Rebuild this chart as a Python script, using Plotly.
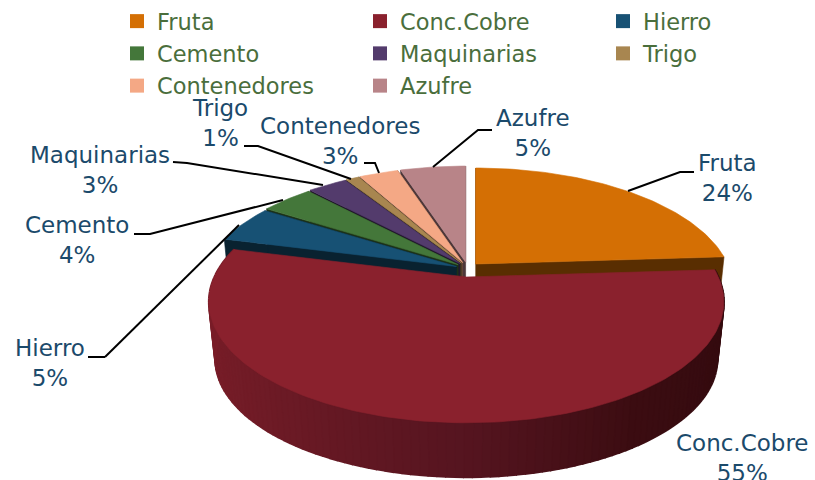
import math
import plotly.graph_objects as go

categories = ["Fruta", "Conc.Cobre", "Hierro", "Cemento", "Maquinarias", "Trigo", "Contenedores", "Azufre"]
values = [24, 55, 5, 4, 3, 1, 3, 5]
colors = ["#D46F04", "#8A212D", "#175174", "#44773A", "#533B6C", "#A88650", "#F4A885", "#B88488"]
legend_columns = [[0, 3, 6], [1, 4, 7], [2, 5]]
label_color = "#1B4A6B"
legend_color = "#4A6E3C"
FONT = "DejaVu Sans"
FS = 23

# Projection of the tilted disc
CX, CY, R, RY, K = 467.5, 269.5, 252.0, 115.8, 0.206
EX, EY = 12.0, 7.5
DEPTH, BOTTOM_SCALE = 58.0, 0.975


def project(angle, radius=1.0, bottom=False):
    u = math.sin(angle) * radius
    v = -math.cos(angle) * radius
    w = 1 - K * v
    s = BOTTOM_SCALE if bottom else 1.0
    return R * s * u / w, RY * s * v / w + (DEPTH if bottom else 0.0)


def darken(hex_color, f):
    r, g, b = (int(hex_color[i:i + 2], 16) for i in (1, 3, 5))
    return f"rgb({int(r * f)},{int(g * f)},{int(b * f)})"


# slice angles from the values
total = sum(values)
angles = []
acc = 0
for val in values:
    a0 = acc / total * 2 * math.pi
    acc += val
    angles.append((a0, acc / total * 2 * math.pi))

fig = go.Figure()


def poly(xs, ys, color, width=0.6):
    fig.add_trace(go.Scatter(x=xs, y=ys, mode="lines", fill="toself", fillcolor=color,
                             line=dict(color=color, width=width), hoverinfo="skip", showlegend=False))


def offset(i):
    mid = sum(angles[i]) / 2
    return CX + EX * math.sin(mid), CY - EY * math.cos(mid)


def draw_face(i, a):
    ox, oy = offset(i)
    t = project(a)
    b = project(a, bottom=True)
    c = darken(colors[i], 0.42)
    poly([ox, ox + t[0], ox + b[0], ox], [oy, oy + t[1], oy + b[1], oy + DEPTH], c)


def draw_top(i):
    ox, oy = offset(i)
    a0, a1 = angles[i]
    n = max(3, int((a1 - a0) / 0.02))
    pts = [project(a0 + (a1 - a0) * j / n) for j in range(n + 1)]
    poly([ox] + [ox + p[0] for p in pts] + [ox], [oy] + [oy + p[1] for p in pts] + [oy], colors[i])


# Back slices, far to near
for i in [0, 7, 6, 5, 4, 3, 2]:
    draw_face(i, angles[i][0])
    draw_face(i, angles[i][1])
    draw_top(i)

# Front wall of the large slice, shaded left to right
wall_stops = [(-1.0, (122, 30, 41)), (0.0, (86, 21, 32)), (0.55, (60, 13, 18)), (1.0, (52, 11, 15))]


def wall_color(u):
    for (u0, c0), (u1, c1) in zip(wall_stops, wall_stops[1:]):
        if u <= u1:
            f = (u - u0) / (u1 - u0)
            return "rgb(%d,%d,%d)" % tuple(c0[k] + (c1[k] - c0[k]) * f for k in range(3))
    return "rgb(52,11,15)"


ox, oy = offset(1)
a0, a1 = angles[1]
steps = 120
for j in range(steps):
    s0 = a0 + (a1 - a0) * j / steps
    s1 = a0 + (a1 - a0) * (j + 1) / steps
    t0, t1 = project(s0), project(s1)
    b0, b1 = project(s0, bottom=True), project(s1, bottom=True)
    poly([ox + t0[0], ox + t1[0], ox + b1[0], ox + b0[0]],
         [oy + t0[1], oy + t1[1], oy + b1[1], oy + b0[1]],
         wall_color(math.sin((s0 + s1) / 2)), width=2)
draw_top(1)

# Legend entries, one legend per column
for col_idx, members in enumerate(legend_columns):
    legend_id = "legend" if col_idx == 0 else f"legend{col_idx + 1}"
    for i in members:
        fig.add_trace(go.Scatter(x=[None], y=[None], mode="markers", name=categories[i], legend=legend_id,
                                 marker=dict(symbol="square", size=14, color=colors[i])))

# Data labels
label_pos = [(727, 178), (742, 458), (50, 363), (77, 240), (100, 170), (220, 123), (340, 141), (533, 133)]
for name, val, (lx, ly) in zip(categories, values, label_pos):
    fig.add_annotation(x=lx, y=ly, text=f"{name}<br>{round(val / total * 100)}%", showarrow=False,
                       font=dict(family=FONT, size=FS, color=label_color), align="center")

# Leader lines
leaders = [
    [(694, 172), (680, 172), (628, 191)],
    [(105, 357), (88, 357)],
    [(105, 357), (239, 225)],
    [(134, 234), (150, 234), (283, 200)],
    [(173, 162), (187, 163), (323, 185)],
    [(244, 146), (258, 146), (351, 179)],
    [(364, 163), (375, 163), (379, 173)],
    [(492, 130), (478, 130), (433, 167)],
]
for pts in leaders:
    fig.add_trace(go.Scatter(x=[p[0] for p in pts], y=[p[1] for p in pts], mode="lines",
                             line=dict(color="black", width=2), hoverinfo="skip", showlegend=False))

legend_style = dict(xanchor="left", yanchor="top", y=1.0, bgcolor="rgba(0,0,0,0)", traceorder="normal",
                    font=dict(family=FONT, size=22.5, color=legend_color))
fig.update_layout(
    width=815, height=480, margin=dict(l=0, r=0, t=0, b=0),
    paper_bgcolor="white", plot_bgcolor="white",
    xaxis=dict(range=[0, 815], visible=False, fixedrange=True),
    yaxis=dict(range=[480, 0], visible=False, fixedrange=True),
    legend=dict(x=117 / 815, **legend_style),
    legend2=dict(x=360 / 815, **legend_style),
    legend3=dict(x=603 / 815, **legend_style),
)
fig.write_html("out.html", config={"displayModeBar": False},
               post_script="document.body.style.margin='0';document.body.style.overflow='hidden';")
